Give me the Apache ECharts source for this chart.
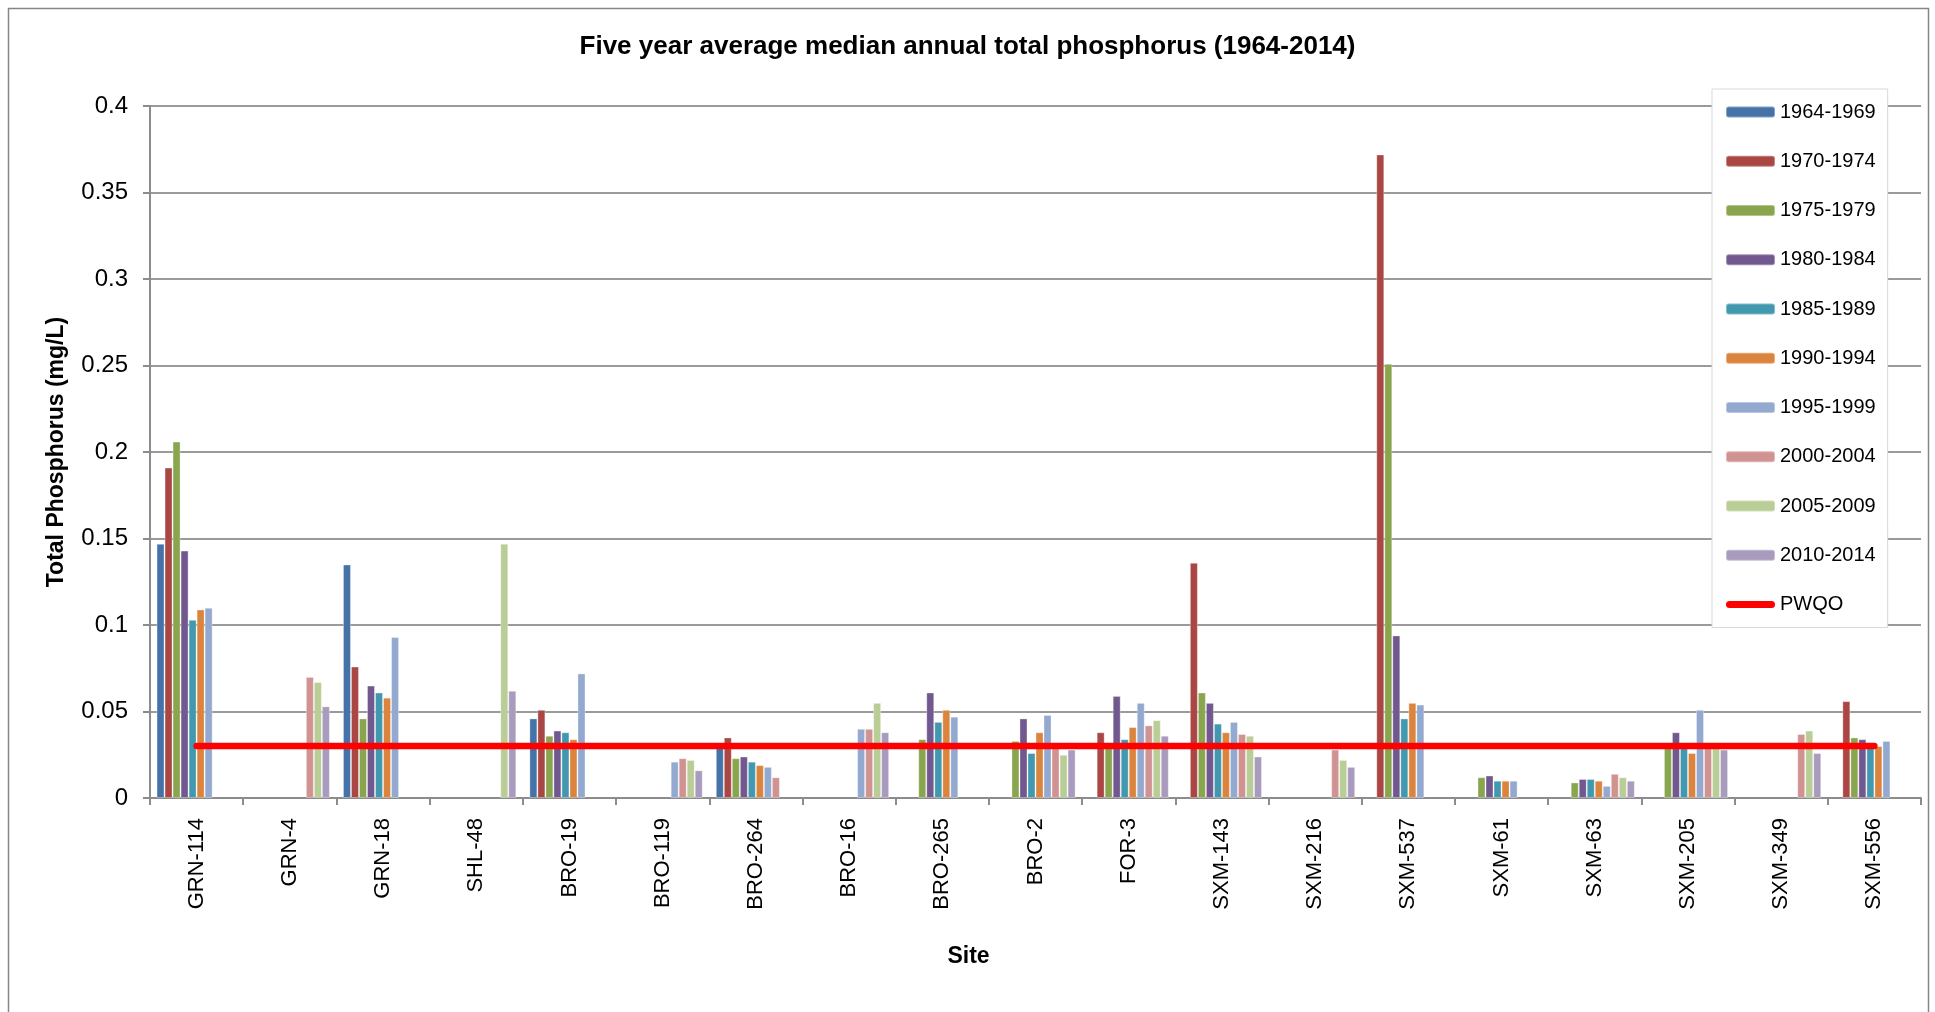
<!DOCTYPE html>
<html>
<head>
<meta charset="utf-8">
<script src="https://cdn.jsdelivr.net/npm/echarts@6/dist/echarts.min.js"></script>
<style>
html,body{margin:0;padding:0;background:#fff;}
#c{width:1935px;height:1012px;}
</style>
</head>
<body>
<div id="c"></div>
<script>
const sites = ['GRN-114','GRN-4','GRN-18','SHL-48','BRO-19','BRO-119','BRO-264','BRO-16','BRO-265','BRO-2','FOR-3','SXM-143','SXM-216','SXM-537','SXM-61','SXM-63','SXM-205','SXM-349','SXM-556'];
const periods = ['1964-1969','1970-1974','1975-1979','1980-1984','1985-1989','1990-1994','1995-1999','2000-2004','2005-2009','2010-2014'];
const colors = ['#4572A7','#AA4643','#89A54E','#71588F','#4198AF','#DB843D','#93A9CF','#D19392','#B9CD96','#A99BBD'];

const p1964 = [0.147,null,0.135,null,0.046,null,0.029,null,null,null,null,null,null,null,null,null,null,null,null];
const p1970 = [0.191,null,0.076,null,0.051,null,0.035,null,null,null,0.038,0.136,null,0.372,null,null,null,null,0.056];
const p1975 = [0.206,null,0.046,null,0.036,null,0.023,null,0.034,0.033,0.029,0.061,null,0.251,0.012,0.009,0.032,null,0.035];
const p1980 = [0.143,null,0.065,null,0.039,null,0.024,null,0.061,0.046,0.059,0.055,null,0.094,0.013,0.011,0.038,null,0.034];
const p1985 = [0.103,null,0.061,null,0.038,null,0.021,null,0.044,0.026,0.034,0.043,null,0.046,0.010,0.011,0.029,null,0.030];
const p1990 = [0.109,null,0.058,null,0.034,null,0.019,null,0.051,0.038,0.041,0.038,null,0.055,0.010,0.010,0.026,null,0.030];
const p1995 = [0.110,null,0.093,null,0.072,0.021,0.018,0.040,0.047,0.048,0.055,0.044,null,0.054,0.010,0.007,0.051,null,0.033];
const p2000 = [null,0.070,null,null,null,0.023,0.012,0.040,null,0.029,0.042,0.037,0.028,null,null,0.014,0.029,0.037,null];
const p2005 = [null,0.067,null,0.147,null,0.022,null,0.055,null,0.025,0.045,0.036,0.022,null,null,0.012,0.031,0.039,null];
const p2010 = [null,0.053,null,0.062,null,0.016,null,0.038,null,0.028,0.036,0.024,0.018,null,null,0.010,0.028,0.026,null];
const pwqo = [0.03,0.03,0.03,0.03,0.03,0.03,0.03,0.03,0.03,0.03,0.03,0.03,0.03,0.03,0.03,0.03,0.03,0.03,0.03];

const yTicks = {min:0, max:0.4, interval:0.05};

const seriesData = [p1964,p1970,p1975,p1980,p1985,p1990,p1995,p2000,p2005,p2010];
const FONT = "'Liberation Sans', Arial, sans-serif";

const series = seriesData.map((d,i)=>({
  name: periods[i],
  type: 'bar',
  data: d,
  barGap: 0,
  barCategoryGap: '14%',
  itemStyle: {color: colors[i], borderColor: 'rgba(255,255,255,0.35)', borderWidth: 1},
  emphasis: {disabled: true}
}));
series.push({
  name: 'PWQO',
  type: 'line',
  data: pwqo,
  symbol: 'none',
  showSymbol: false,
  lineStyle: {color: '#FF0000', width: 6.5, cap: 'round'},
  itemStyle: {color: '#FF0000'},
  z: 5
});

const legendData = periods.map(p=>({name: p}));
legendData.push({name: 'PWQO', icon: 'path://M3.5,0 H45.5 A3.5,3.5 0 0 1 45.5,7 H3.5 A3.5,3.5 0 0 1 3.5,0 Z', itemStyle: {color: '#FF0000'}});

const chart = echarts.init(document.getElementById('c'), null, {renderer:'canvas'});
chart.setOption({
  animation: false,
  backgroundColor: '#fff',
  textStyle: {fontFamily: FONT},
  title: {
    text: 'Five year average median annual total phosphorus (1964-2014)',
    left: 'center', top: 34, padding: 0,
    textStyle: {fontFamily: FONT, fontWeight: 'bold', fontSize: 26, color: '#000'}
  },
  graphic: [{
    type: 'rect', left: 6, top: 6, silent: true, z: -10,
    shape: {width: 1920, height: 1030},
    style: {fill: 'none', stroke: '#868686', lineWidth: 1.5}
  }],
  legend: {
    orient: 'vertical', left: 1712, top: 89,
    padding: [13, 12, 13, 13],
    itemWidth: 49, itemHeight: 11, itemGap: 29.25,
    borderColor: '#d9d9d9', borderWidth: 1, backgroundColor: '#fff',
    textStyle: {fontFamily: FONT, fontSize: 20, color: '#000'},
    data: legendData,
    z: 10
  },
  grid: {left: 150, right: 14, top: 106, bottom: 214, containLabel: false},
  xAxis: {
    type: 'category', data: sites,
    name: 'Site', nameLocation: 'middle', nameGap: 147,
    nameTextStyle: {fontFamily: FONT, fontWeight: 'bold', fontSize: 23, color: '#000', padding: [0, 134, 0, 0]},
    axisLine: {lineStyle: {color: '#8c8c8c', width: 2}},
    axisTick: {show: true, length: 7, lineStyle: {color: '#8c8c8c', width: 2}},
    axisLabel: {rotate: 90, margin: 20, fontFamily: FONT, fontSize: 22, color: '#000', interval: 0}
  },
  yAxis: {
    type: 'value', min: yTicks.min, max: yTicks.max, interval: yTicks.interval,
    name: 'Total Phosphorus (mg/L)', nameLocation: 'middle', nameGap: 82,
    nameTextStyle: {fontFamily: FONT, fontWeight: 'bold', fontSize: 23, color: '#000'},
    axisLine: {show: true, lineStyle: {color: '#8c8c8c', width: 2}},
    axisTick: {show: true, length: 7, lineStyle: {color: '#8c8c8c', width: 2}},
    axisLabel: {margin: 22, fontFamily: FONT, fontSize: 24, color: '#000'},
    splitLine: {lineStyle: {color: '#9a9a9a', width: 2}}
  },
  series: series
});
</script>
</body>
</html>
